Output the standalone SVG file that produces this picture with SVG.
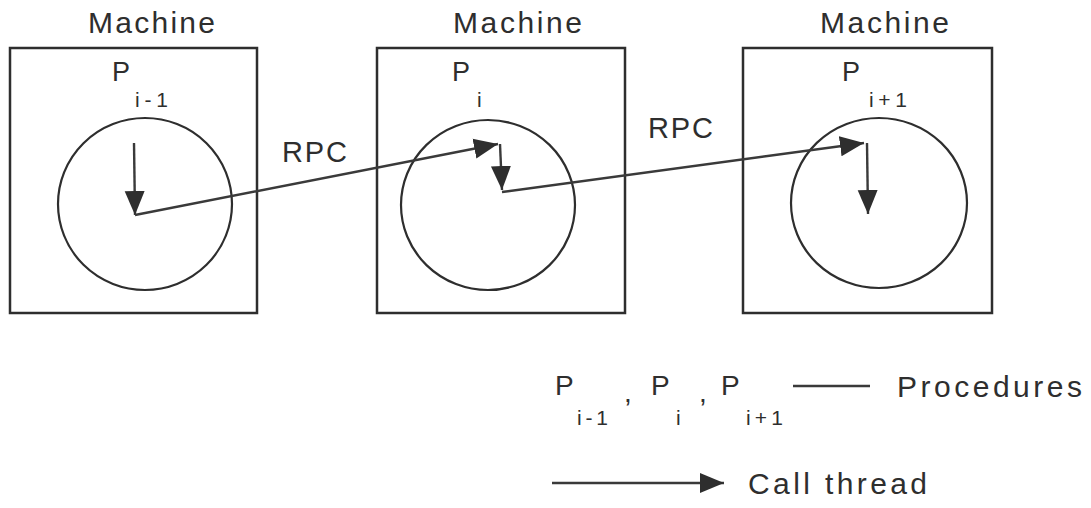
<svg xmlns="http://www.w3.org/2000/svg" width="1091" height="508" viewBox="0 0 1091 508">
  <style>
    .box { fill: none; stroke: #2e2e2e; stroke-width: 2.5; }
    .proc { fill: none; stroke: #2e2e2e; stroke-width: 2.2; }
    .wire { fill: none; stroke: #3a3a3a; stroke-width: 2.4; }
    .t { font-family: "Liberation Sans", Arial, sans-serif; fill: #2e2e2e; }
    .lbl { font-size: 30px; }
    .p { font-size: 27px; }
    .lp { font-size: 28px; }
    .sub { font-size: 21px; }
  </style>
  <defs>
    <marker id="ah" markerUnits="userSpaceOnUse" markerWidth="25" markerHeight="22" refX="24" refY="11" orient="auto">
      <path d="M0,1 L24,11 L0,21 z" fill="#2e2e2e"/>
    </marker>
  </defs>
  <rect width="1091" height="508" fill="#ffffff"/>

  <g id="machine1">
    <text class="t lbl" x="88" y="33" textLength="127" lengthAdjust="spacing">Machine</text>
    <rect class="box" x="10" y="48" width="247" height="265"/>
    <g id="proc1">
      <ellipse class="proc" cx="145" cy="204" rx="87" ry="86"/>
      <text class="t p" x="112" y="81">P</text>
      <text class="t sub" x="135" y="107" textLength="33" lengthAdjust="spacing">i-1</text>
    </g>
  </g>

  <g id="machine2">
    <text class="t lbl" x="453" y="33" textLength="129" lengthAdjust="spacing">Machine</text>
    <rect class="box" x="377" y="48" width="248" height="265"/>
    <g id="proc2">
      <ellipse class="proc" cx="488" cy="205" rx="87" ry="85"/>
      <text class="t p" x="452" y="81">P</text>
      <text class="t sub" x="477" y="107">i</text>
    </g>
  </g>

  <g id="machine3">
    <text class="t lbl" x="820" y="33" textLength="129" lengthAdjust="spacing">Machine</text>
    <rect class="box" x="743" y="48" width="249" height="265"/>
    <g id="proc3">
      <ellipse class="proc" cx="879" cy="203" rx="88" ry="85"/>
      <text class="t p" x="842" y="81">P</text>
      <text class="t sub" x="869" y="107" textLength="38" lengthAdjust="spacing">i+1</text>
    </g>
  </g>

  <g id="connectors">
    <line class="wire" x1="134" y1="143" x2="135" y2="215" marker-end="url(#ah)"/>
    <line class="wire" x1="135" y1="215" x2="498" y2="144" marker-end="url(#ah)"/>
    <line class="wire" x1="500" y1="144" x2="502" y2="190" marker-end="url(#ah)"/>
    <line class="wire" x1="502" y1="192" x2="864" y2="143" marker-end="url(#ah)"/>
    <line class="wire" x1="867" y1="143" x2="868" y2="214" marker-end="url(#ah)"/>
    <text class="t" x="282" y="162" font-size="29" textLength="65" lengthAdjust="spacing">RPC</text>
    <text class="t" x="648" y="138" font-size="29" textLength="65" lengthAdjust="spacing">RPC</text>
  </g>

  <g id="legend">
    <text class="t lp" x="555" y="395">P</text>
    <text class="t sub" x="577" y="425" textLength="31" lengthAdjust="spacing">i-1</text>
    <text class="t lp" x="624" y="402">,</text>
    <text class="t lp" x="651" y="395">P</text>
    <text class="t sub" x="676" y="425">i</text>
    <text class="t lp" x="699" y="402">,</text>
    <text class="t lp" x="721" y="395">P</text>
    <text class="t sub" x="746" y="425" textLength="37" lengthAdjust="spacing">i+1</text>
    <line class="wire" x1="793" y1="386" x2="870" y2="386"/>
    <text class="t lbl" x="897" y="397" textLength="185" lengthAdjust="spacing">Procedures</text>
    <line class="wire" x1="552" y1="483" x2="724" y2="483" marker-end="url(#ah)"/>
    <text class="t lbl" x="748" y="494" textLength="179" lengthAdjust="spacing">Call  thread</text>
  </g>
</svg>
